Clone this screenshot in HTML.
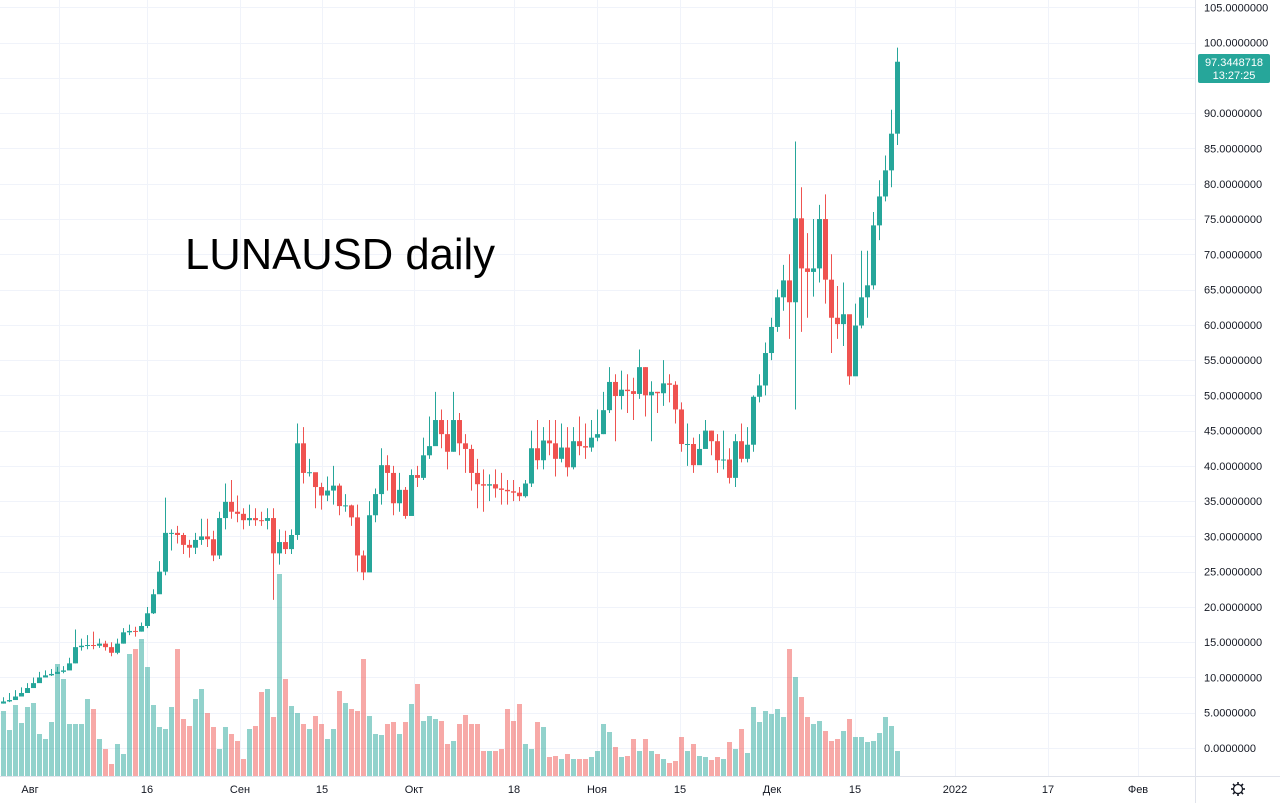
<!DOCTYPE html>
<html><head><meta charset="utf-8"><style>
body{margin:0;background:#fff;width:1280px;height:803px;overflow:hidden;font-family:"Liberation Sans",sans-serif}
svg{display:block}
</style></head><body>
<svg id="chart" width="1280" height="803" xmlns="http://www.w3.org/2000/svg">
<g id="grid"></g>
<g id="vol"></g>
<g id="candles"></g>
<text x="185" y="269" font-size="44" textLength="310" lengthAdjust="spacingAndGlyphs" fill="#000" font-family="Liberation Sans, sans-serif">LUNAUSD daily</text>
<line x1="1195.5" y1="0" x2="1195.5" y2="803" stroke="#e0e3eb"/>
<line x1="0" y1="776.5" x2="1280" y2="776.5" stroke="#e0e3eb"/>
<g id="yax"></g>
<g id="xax"></g>
<g>
<rect x="1198" y="54" width="72" height="29" rx="2" fill="#26a69a"/>
<text x="1234" y="66" font-size="11" fill="#fff" text-anchor="middle">97.3448718</text>
<text x="1234" y="79" font-size="11" fill="#fff" text-anchor="middle">13:27:25</text>
</g>
<g transform="translate(1238,789)">
<circle r="4.5" fill="none" stroke="#131722" stroke-width="1.3"/>
<g stroke="#131722" stroke-width="1.6"><line x1="0" y1="-7" x2="0" y2="-4.5"/><line x1="0" y1="7" x2="0" y2="4.5"/><line x1="-7" y1="0" x2="-4.5" y2="0"/><line x1="7" y1="0" x2="4.5" y2="0"/><line x1="-5" y1="-5" x2="-3.2" y2="-3.2"/><line x1="5" y1="5" x2="3.2" y2="3.2"/><line x1="-5" y1="5" x2="-3.2" y2="3.2"/><line x1="5" y1="-5" x2="3.2" y2="-3.2"/></g>
</g>
</svg>
<script>
const closes=[5.5,6,6.3,6.6,6.8,7.3,7.8,8.5,9.2,10,10.3,10.5,10.8,11,12,
14.3,14.5,14.6,14.5,14.8,14.3,13.5,14.8,16.4,16.6,16.5,17.3,
19.1,21.8,25,30.5,30.5,30.2,28.8,28.4,29.5,30,
29.6,27.3,32.6,34.9,33.5,33.2,32.3,32.6,32.3,32.2,
32.6,27.6,29.2,28.2,30.2,43.2,39,39.1,37,35.8,
36.5,37.2,34.3,34.4,32.7,27.3,24.9,33,36,40.1,
39,34.7,36.6,32.9,38.7,38.3,41.5,42.8,46.5,44.5,
42,46.5,43.2,42.4,39,37.4,37.2,37.4,36.8,36.6,
36.4,36.2,35.7,37.5,42.5,40.8,43.6,43.2,41,42.6,
39.8,43.5,42.8,42.6,44,44.5,47.9,51.9,49.9,50.8,
50.6,50.2,54,50,50.5,50.3,51.7,51.5,48,43.1,
43.1,40.1,42.4,45,43.5,40.8,40.9,38.3,43.5,41,
43,49.8,51.4,56,59.7,63.9,66.3,63.2,75.1,68,
67.5,68,75,66.4,61,60.1,61.5,52.7,59.9,63.9,
65.6,74.1,78.2,81.9,87.1,97.3];
const highs=[6,6.5,6.8,7.2,7.8,8.2,8.6,9.2,10,10.8,11,11.2,11.5,11.6,12.8,
16.8,15.5,16,16.5,15.5,15.2,15,15.5,17,17.5,17.2,17.8,
20,22.5,26.5,35.5,31,31.5,30.5,29.5,30.5,32.5,
32.5,30.8,33.5,37.5,38,35.8,34,34.5,34,33.5,
34,34,31,30.8,31,46,45.5,41,38.5,37.6,
38.5,40,37.5,36,34.5,34.5,28,35,36.8,42.5,
41.5,40,39,37,39.5,40,44,47,50.5,48,
46.5,50.5,47.5,44.5,43,41,39.5,38.8,39.5,39,
38,38,37,38,45,46.5,45.5,46.5,46.5,46,
45.5,45.5,47,46,46.5,48,50.5,54,53,53.5,
53,52.5,56.5,54,52,50.5,55,53,52,49,
46,44,44.5,46.5,45,44.5,45,42.5,44.5,46,
45.5,50,53,57.5,61,65,68.5,70,86,79.5,
73,75,77,78.5,70,65.5,66,60,63,70.5,
70.5,76,80.5,84,90.5,99.3];
const lows=[5.2,5.7,6,6.3,6.5,7,7.5,8.2,9,9.5,10,10.2,10.5,10.6,11.5,
12,13.8,14,14,14.2,13.8,13,13.3,14.8,16,15.8,16.5,
17,19,22,24.5,28,29,27.5,27,27.5,28.8,
28.5,26.5,26.8,31,32.5,32,31,31.5,31.5,31.5,
31,21,26,27.5,27.5,29.5,37.5,38.5,34,33.8,
35,34.5,33,33.5,31.5,25,23.8,25,32,34.5,
36.5,33,33.5,32.5,33.5,37,38,41,43.5,42.5,
39.5,42,41.5,39,36.5,34,33.5,35,35.5,34.5,
34.5,35,35,35.5,37,39.5,39.5,41.5,38.5,40.5,
38.5,39.5,41.5,41,42,43.5,44.5,47.5,43.5,48,
47.5,46.5,49.5,47,43.5,47.5,48.5,49,46,42,
40,39,40.5,42.5,41.5,39,39.5,37.5,37,40.5,
40.5,42,49,50,55,59,62,58,48,59,
61,64,66,63,56,58,57,51.5,53,59.5,
61,65,72,77.5,79.5,85.5];
const volumes=[50,55,60,55,55,63,66,47,72,54,70,74,43,38,55,
113,98,53,53,53,78,68,38,28,13,33,23,123,128,138,110,72,50,48,70,128,58,51,78,88,64,50,28,50,43,36,18,48,51,85,88,60,203,98,71,64,53,48,61,53,38,48,86,74,68,66,118,61,43,42,53,55,43,55,73,93,56,61,58,56,33,36,53,62,53,53,26,26,26,28,68,56,73,33,28,55,50,20,21,18,23,18,18,18,20,26,53,45,30,20,21,38,26,38,26,23,18,14,16,40,26,33,21,20,17,20,18,35,28,48,24,70,55,66,63,68,60,128,100,80,60,53,56,46,36,38,46,58,40,40,35,36,44,60,51,26];
const priceTicks=[105,100,95,90,85,80,75,70,65,60,55,50,45,40,35,30,25,20,15,10,5,0];
const timeLabels=["Авг","16","Сен","15","Окт","18","Ноя","15","Дек","15","2022","17","Фев"];
const timeLabelX=[30,147,240,322,414,514,597,680,772,855,955,1048,1138];
const timeGridX=[59,147,240,322,414,514,597,680,772,855,955,1048,1138];

const NS="http://www.w3.org/2000/svg";
function y(v){return 748-v*7.053;}
const step=6.0, lastX=897;
function x(i){return lastX-(closes.length-1-i)*step;}
function mk(tag,attrs,parent){const e=document.createElementNS(NS,tag);for(const k in attrs)e.setAttribute(k,attrs[k]);parent.appendChild(e);return e;}
const grid=document.getElementById('grid'),yax=document.getElementById('yax'),xax=document.getElementById('xax');
priceTicks.forEach(v=>{
  const l=mk('line',{x1:0,x2:1195,y1:Math.round(y(v))+0.5,y2:Math.round(y(v))+0.5,stroke:'#f0f3fa'},grid);
  
  
  if(v===95)return;
  const t=mk('text',{x:1204,y:y(v)+4,'font-size':11,fill:'#131722'},yax);
  t.textContent=v.toFixed(7);
  
  
});
timeGridX.forEach(gx=>{
  const l=mk('line',{x1:gx+0.5,x2:gx+0.5,y1:0,y2:776,stroke:'#f0f3fa'},grid);
  
  
});
timeLabels.forEach((s,i)=>{
  const t=mk('text',{x:timeLabelX[i],y:793,'font-size':11,fill:'#131722','text-anchor':'middle'},xax);
  t.textContent=s;
  
  
});
const cg=document.getElementById('candles'),vg=document.getElementById('vol');
const voff=closes.length-volumes.length;
closes.forEach((c,i)=>{
  const o=i>0?closes[i-1]:c*0.95;
  const up=c>=o,col=up?'#26a69a':'#ef5350';
  const cx=Math.round(x(i))+0.5;
  const w=mk('line',{x1:cx,x2:cx,y1:y(highs[i]),y2:y(lows[i]),stroke:col,'stroke-width':1},cg);
  
  
  const top=y(Math.max(o,c)),bot=y(Math.min(o,c));
  const b=mk('rect',{x:cx-2.5,y:top,width:5,height:Math.max(1,bot-top),fill:col},cg);
  
  
  const vi=i-voff;
  if(vi>=0){
    const h=volumes[vi];
    const r=mk('rect',{x:cx-2.5,y:777-h,width:5,height:h,fill:up?'rgba(38,166,154,0.5)':'rgba(239,83,80,0.5)'},vg);
    
    
  }
});
</script>
</body></html>
